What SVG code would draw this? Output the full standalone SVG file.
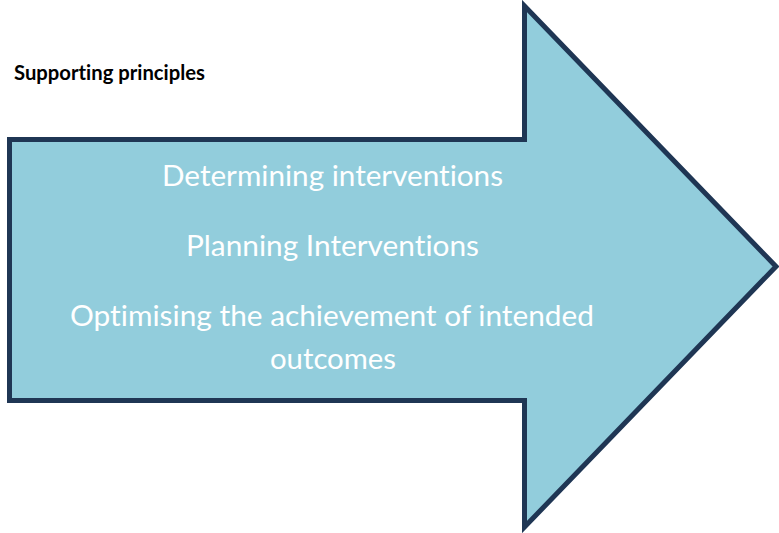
<svg xmlns="http://www.w3.org/2000/svg" width="779" height="533" viewBox="0 0 779 533">
<style>
.lbl{font-family:Lato,"Open Sans","Liberation Sans",sans-serif;font-size:28px;fill:#FFFFFF;text-anchor:middle;font-variant-ligatures:none;font-feature-settings:"liga" 0}
.title{font-family:Lato,"Open Sans","Liberation Sans",sans-serif;font-size:21px;font-weight:bold;fill:#000000;font-variant-ligatures:none;font-feature-settings:"liga" 0}
</style>
<rect width="779" height="533" fill="#FFFFFF"/>
<g id="title"><text class="title" x="14" y="80" textLength="191" lengthAdjust="spacingAndGlyphs">Supporting principles</text></g>
<g id="arrow">
<polygon points="9.5,139.5 524.5,139.5 524.5,6 776,266.5 524.5,527 524.5,400.5 9.5,400.5" fill="#92CDDC" stroke="#1F3654" stroke-width="5" stroke-linejoin="miter"/>
<text class="lbl" x="332.5" y="186" textLength="341" lengthAdjust="spacingAndGlyphs">Determining interventions</text>
<text class="lbl" x="332.5" y="256" textLength="293" lengthAdjust="spacingAndGlyphs">Planning Interventions</text>
<text class="lbl" x="332" y="326" textLength="524" lengthAdjust="spacingAndGlyphs">Optimising the achievement of intended</text>
<text class="lbl" x="333" y="369" textLength="126" lengthAdjust="spacingAndGlyphs">outcomes</text>
</g>
<g id="connectors"/>
</svg>
